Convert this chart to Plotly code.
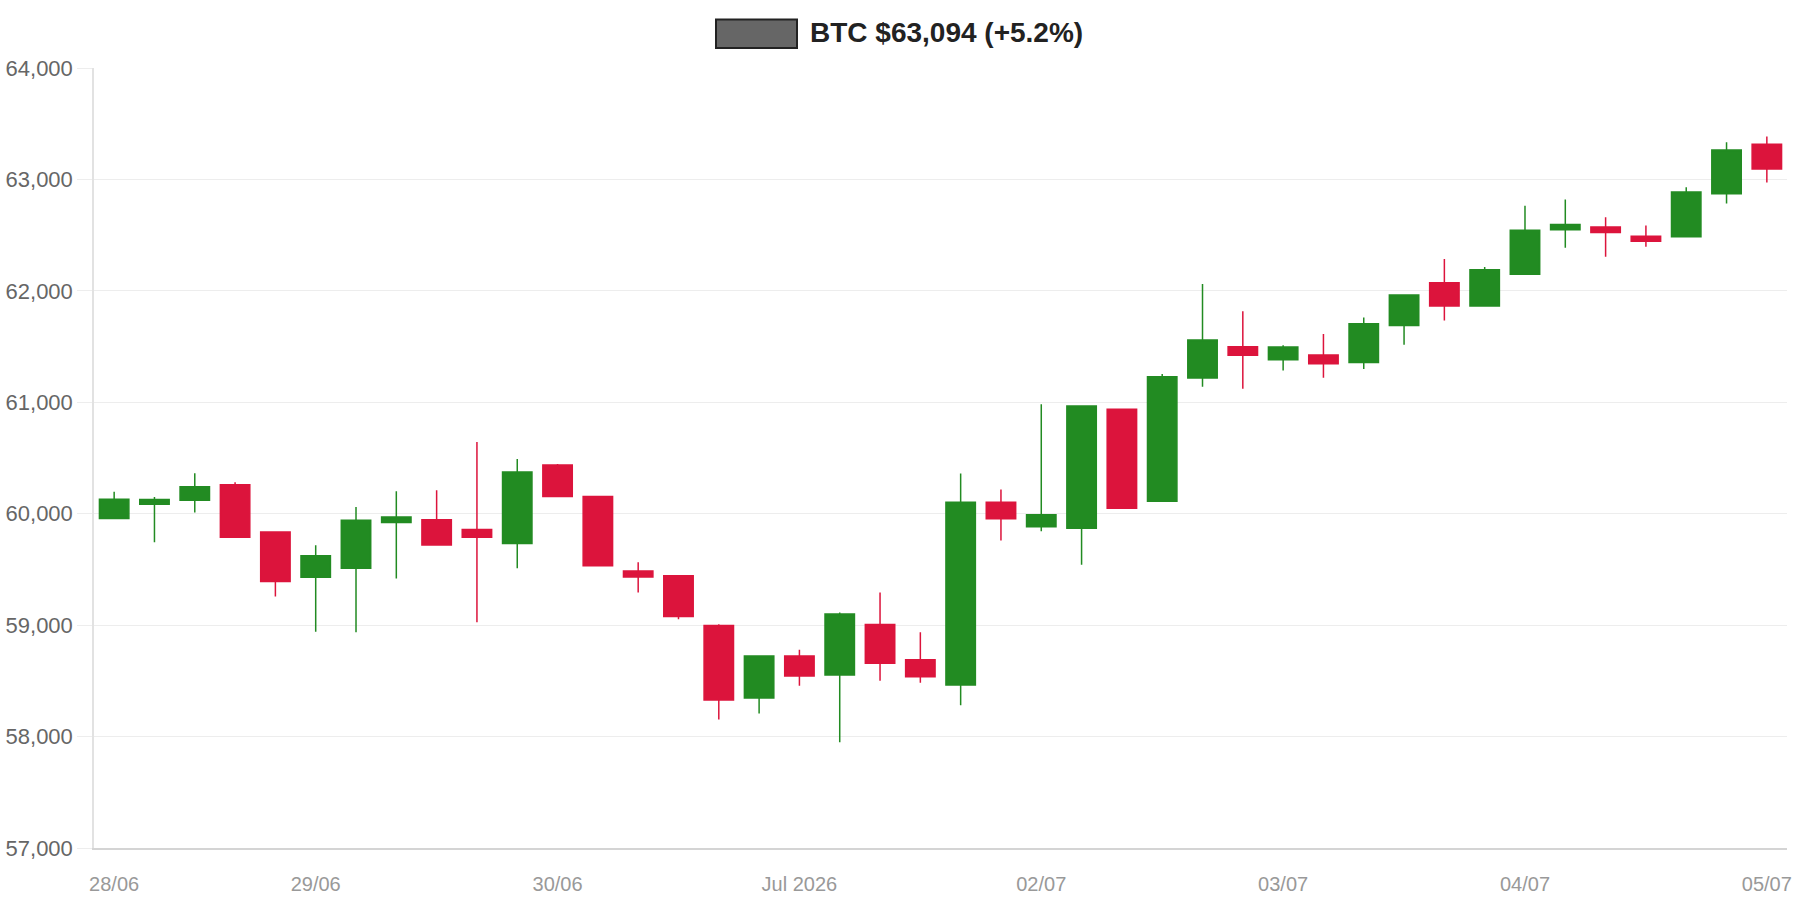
import pandas as pd
import plotly.graph_objects as go

# 4-hour BTC candles
times = pd.date_range("2026-06-28 04:00", periods=42, freq="4h")
open_ = [59957, 60085, 60121, 60261, 59837, 59430, 59511, 59921, 59945, 59858,
         59732, 60438, 60154, 59487, 59443, 58997, 58346, 58722, 58552, 59006,
         58689, 58462, 60103, 59882, 59870, 60937, 60112, 61218, 61499, 61382,
         61424, 61358, 61690, 62073, 61863, 62150, 62548, 62572, 62491, 62485,
         62871, 63316]
high = [60196, 60151, 60363, 60282, 59840, 59717, 60061, 60202, 60211, 60644,
        60492, 60447, 60156, 59565, 59445, 59009, 58722, 58779, 59114, 59293,
        58937, 60360, 60217, 60982, 60967, 60937, 61254, 62061, 61818, 61511,
        61612, 61762, 61962, 62285, 62213, 62763, 62820, 62661, 62587, 62930,
        63334, 63385]
low = [59950, 59744, 60010, 59785, 59257, 58940, 58937, 59419, 59718, 59027,
       59511, 60154, 59530, 59293, 59054, 58154, 58208, 58456, 57948, 58501,
       58483, 58280, 59759, 59843, 59541, 60049, 60112, 61140, 61122, 61286,
       61221, 61298, 61517, 61735, 61860, 62144, 62386, 62306, 62395, 62485,
       62784, 62972]
close = [60130, 60127, 60243, 59789, 59392, 59622, 59942, 59971, 59720, 59789,
         60375, 60154, 59532, 59431, 59078, 58328, 58722, 58543, 59099, 58659,
         58537, 60103, 59954, 59990, 60967, 60049, 61230, 61559, 61421, 61496,
         61346, 61705, 61962, 61863, 62189, 62545, 62596, 62524, 62446, 62888,
         63265, 63094]

tick_dates = [times[0]] + list(pd.date_range("2026-06-29", "2026-07-05", freq="D"))
tick_text = ["28/06", "29/06", "30/06", "Jul 2026", "02/07", "03/07", "04/07", "05/07"]
y_ticks = [57000, 58000, 59000, 60000, 61000, 62000, 63000, 64000]

UP = "#228B22"
DOWN = "#DC143C"
FONT = "Liberation Sans, Arial, Helvetica, sans-serif"

pct = (close[-1] / open_[0] - 1) * 100
title_text = f"BTC ${close[-1]:,} ({pct:+.1f}%)"

fig = go.Figure(go.Candlestick(
    x=times, open=open_, high=high, low=low, close=close,
    increasing=dict(fillcolor=UP, line=dict(color=UP, width=1.5)),
    decreasing=dict(fillcolor=DOWN, line=dict(color=DOWN, width=1.5)),
    whiskerwidth=0,
    showlegend=False,
))

half = pd.Timedelta(hours=2)
fig.update_layout(
    width=1800, height=900,
    margin=dict(l=94, r=13, t=68, b=52),
    paper_bgcolor="white", plot_bgcolor="white",
    font=dict(family=FONT),
    boxgap=0.27, boxgroupgap=0,
    xaxis=dict(
        type="date", automargin=False,
        range=[times[0] - half, times[-1] + half],
        rangeslider=dict(visible=False),
        tickmode="array", tickvals=tick_dates, ticktext=tick_text,
        showgrid=False, zeroline=False,
        showline=True, linecolor="#d4d4d4", linewidth=2,
        ticks="", ticklabelstandoff=17,
        tickfont=dict(size=20, color="#999999", family=FONT),
    ),
    yaxis=dict(
        automargin=False,
        range=[57000, 64000],
        tickmode="array", tickvals=y_ticks, tickformat=",d",
        showgrid=True, gridcolor="#ededed", gridwidth=1,
        zeroline=False,
        showline=True, linecolor="#e2e2e2", linewidth=1.5,
        ticks="outside", ticklen=15, tickcolor="#ededed", tickwidth=1,
        ticklabelstandoff=0,
        tickfont=dict(size=22, color="#666666", family=FONT),
    ),
    shapes=[dict(
        type="rect", xref="paper", yref="paper",
        x0=(716 - 94) / 1693, x1=(797 - 94) / 1693,
        y0=(848 - 48) / 780, y1=(848 - 19.5) / 780,
        fillcolor="#666666", line=dict(color="#222222", width=2),
    )],
    annotations=[dict(
        text=f"<b>{title_text}</b>", xref="paper", yref="paper",
        x=(808 - 94) / 1693, y=(848 - 33) / 780,
        xanchor="left", yanchor="middle", showarrow=False,
        font=dict(size=28, color="#222222", family=FONT),
    )],
)

fig.write_html("out.html")
